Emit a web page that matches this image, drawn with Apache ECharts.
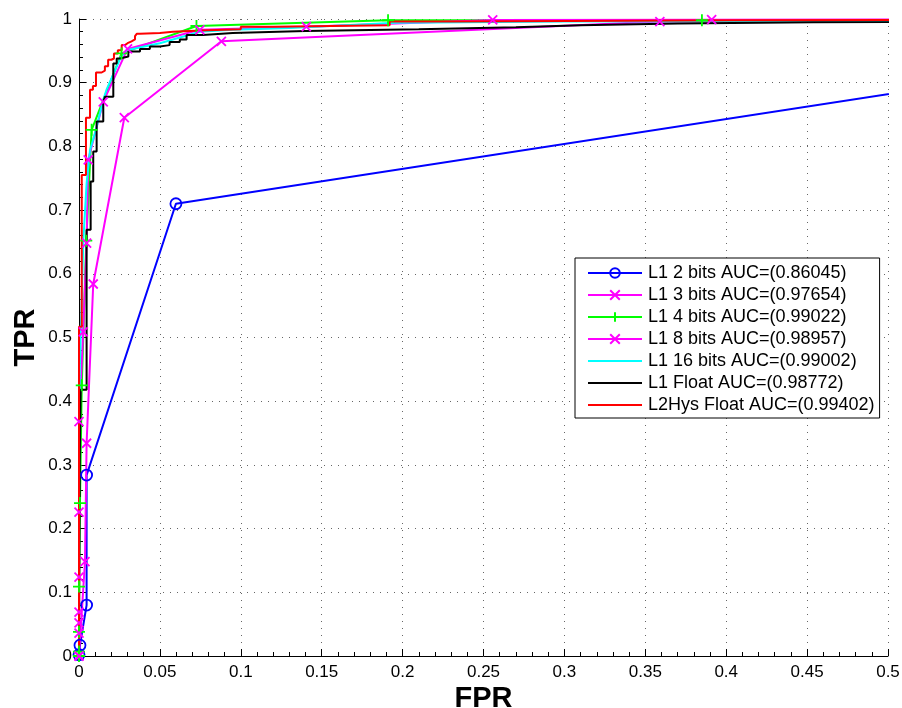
<!DOCTYPE html>
<html>
<head>
<meta charset="utf-8">
<script src="https://cdn.jsdelivr.net/npm/echarts@6/dist/echarts.min.js"></script>
<style>
html,body{margin:0;padding:0;background:#fff;}
#chart{width:902px;height:708px;}
</style>
</head>
<body>
<div id="chart"></div>
<script>
// ---- Data ----
const xTickValues = [0, 0.05, 0.1, 0.15, 0.2, 0.25, 0.3, 0.35, 0.4, 0.45, 0.5];
const xTickLabels = ['0', '0.05', '0.1', '0.15', '0.2', '0.25', '0.3', '0.35', '0.4', '0.45', '0.5'];
const yTickValues = [0, 0.1, 0.2, 0.3, 0.4, 0.5, 0.6, 0.7, 0.8, 0.9, 1];
const yTickLabels = ['0', '0.1', '0.2', '0.3', '0.4', '0.5', '0.6', '0.7', '0.8', '0.9', '1'];

const seriesNames = [
  'L1 2 bits AUC=(0.86045)',
  'L1 3 bits AUC=(0.97654)',
  'L1 4 bits AUC=(0.99022)',
  'L1 8 bits AUC=(0.98957)',
  'L1 16 bits AUC=(0.99002)',
  'L1 Float AUC=(0.98772)',
  'L2Hys Float AUC=(0.99402)'
];

// L1 2 bits
const fpr2 = [0, 0.0006, 0.0047, 0.0047, 0.0599, 0.6, 1];
const tpr2 = [0.002, 0.017, 0.080, 0.284, 0.710, 0.921, 1];

// L1 3 bits
const fpr3 = [0, 0.0037, 0.0047, 0.0088, 0.028, 0.088, 0.359, 1];
const tpr3 = [0, 0.148, 0.334, 0.584, 0.845, 0.965, 0.996, 1];

// L1 4 bits
const fpr4 = [0, 0, 0, 0, 0.0006, 0.0017, 0.0045, 0.0078, 0.0263, 0.0726, 0.191, 0.385, 1];
const tpr4 = [0, 0.007, 0.038, 0.109, 0.240, 0.425, 0.652, 0.826, 0.946, 0.989, 0.998, 0.998, 1];

// L1 8 bits
const fpr8 = [0, 0, 0, 0, 0, 0, 0, 0.0026, 0.0047, 0.0057, 0.015, 0.030, 0.0747, 0.1405, 0.2557, 0.391, 1];
const tpr8 = [0, 0.036, 0.052, 0.069, 0.124, 0.226, 0.368, 0.509, 0.648, 0.779, 0.870, 0.953, 0.983, 0.988, 0.9985, 0.999, 1];

// L1 16 bits
const fpr16 = [0, 0, 0.0005, 0.0012, 0.0027, 0.0047, 0.0068, 0.0099, 0.015, 0.017, 0.026, 0.0294, 0.05, 0.0747, 0.095, 0.13, 0.196, 0.3, 0.5, 1];
const tpr16 = [0, 0.30, 0.45, 0.52, 0.653, 0.742, 0.794, 0.821, 0.873, 0.889, 0.941, 0.951, 0.962, 0.980, 0.983, 0.986, 0.994, 0.996, 0.997, 1];

// L1 Float (staircase)
const fprFloat = [0, 0.0005, 0.001, 0.001, 0.0047, 0.0047, 0.0072, 0.0072, 0.0088, 0.0088, 0.0109, 0.0109, 0.015, 0.015, 0.016, 0.016, 0.0212, 0.0212, 0.0233, 0.0233, 0.0253, 0.0253, 0.0305, 0.0305, 0.0377, 0.0377, 0.0438, 0.0438, 0.05, 0.05, 0.056, 0.056, 0.0623, 0.0623, 0.0665, 0.0665, 0.0767, 0.0767, 0.095, 0.095, 0.14, 0.14, 0.21, 0.21, 0.27, 0.27, 0.31, 0.31, 0.37, 0.37, 0.454, 0.454, 1];
const tprFloat = [0, 0.31, 0.31, 0.418, 0.418, 0.669, 0.669, 0.745, 0.745, 0.792, 0.792, 0.839, 0.839, 0.870, 0.870, 0.878, 0.878, 0.930, 0.930, 0.938, 0.938, 0.941, 0.941, 0.949, 0.949, 0.953, 0.953, 0.957, 0.957, 0.959, 0.959, 0.964, 0.964, 0.968, 0.968, 0.975, 0.975, 0.978, 0.978, 0.981, 0.981, 0.984, 0.984, 0.987, 0.987, 0.990, 0.990, 0.993, 0.993, 0.995, 0.995, 0.997, 1];

// L2Hys Float (staircase)
const fprHys = [0, 0, 0.0017, 0.0017, 0.0043, 0.0043, 0.0068, 0.0068, 0.0086, 0.0086, 0.0105, 0.0105, 0.014, 0.014, 0.016, 0.016, 0.018, 0.018, 0.020, 0.020, 0.0216, 0.0216, 0.024, 0.024, 0.0264, 0.0264, 0.0284, 0.0284, 0.030, 0.030, 0.0325, 0.0325, 0.0346, 0.0346, 0.0358, 0.0358, 0.0377, 0.0377, 0.05, 0.05, 0.058, 0.058, 0.075, 0.075, 0.10, 0.10, 0.12, 0.12, 0.192, 0.192, 0.231, 0.231, 0.41, 0.41, 1];
const tprHys = [0, 0.517, 0.517, 0.755, 0.755, 0.845, 0.845, 0.889, 0.889, 0.895, 0.895, 0.916, 0.916, 0.919, 0.919, 0.926, 0.926, 0.936, 0.936, 0.938, 0.938, 0.946, 0.946, 0.951, 0.951, 0.959, 0.959, 0.962, 0.962, 0.965, 0.965, 0.968, 0.968, 0.973, 0.973, 0.977, 0.977, 0.978, 0.978, 0.980, 0.980, 0.982, 0.982, 0.984, 0.984, 0.988, 0.988, 0.990, 0.990, 0.996, 0.996, 0.998, 0.998, 0.999, 1];

// ---- Chart ----
const FONT = '"Liberation Sans", Arial, Helvetica, sans-serif';
const X_SYM = 'path://M0,0L10,10M0,10L10,0';
const PLUS_SYM = 'path://M5,0L5,10M0,5L10,5';

function zip(xs, ys) { return xs.map((x, i) => [x, ys[i]]); }

function mkSeries(name, xs, ys, color, symbol, symbolSize, fillNone) {
  const s = {
    name: name,
    type: 'line',
    data: zip(xs, ys),
    clip: true,
    smooth: false,
    lineStyle: { color: color, width: 2 },
    emphasis: { disabled: true },
    animation: false
  };
  if (symbol) {
    s.symbol = symbol;
    s.symbolSize = symbolSize;
    s.showSymbol = true;
    s.showAllSymbol = true;
    s.itemStyle = { color: fillNone ? 'rgba(0,0,0,0)' : color, borderColor: color, borderWidth: 1.8 };
  } else {
    s.symbol = 'none';
    s.itemStyle = { color: color };
  }
  return s;
}

const chart = echarts.init(document.getElementById('chart'), null, { renderer: 'canvas' });

const legendData = seriesNames.map((n, i) => (i >= 4
  ? { name: n, itemStyle: { color: 'rgba(0,0,0,0)', borderWidth: 0, opacity: 0 } }
  : { name: n }));

const option = {
  backgroundColor: '#ffffff',
  animation: false,
  textStyle: { fontFamily: FONT },
  grid: { left: 79, right: 14, top: 19, bottom: 52, containLabel: false, outerBoundsMode: 'none' },
  xAxis: {
    type: 'value',
    min: 0, max: 0.5, interval: 0.05,
    name: 'FPR',
    nameLocation: 'middle',
    nameGap: 28,
    nameMoveOverlap: false,
    nameTextStyle: { fontFamily: FONT, fontSize: 29, fontWeight: 'bold', color: '#000' },
    axisLine: { show: true, onZero: false, lineStyle: { color: '#000', width: 1 } },
    axisTick: { show: true, inside: true, length: 7, lineStyle: { color: '#000' } },
    minorTick: { show: true, splitNumber: 5, length: 4, lineStyle: { color: '#000' } },
    axisLabel: {
      fontFamily: FONT, fontSize: 17, color: '#000', margin: 8,
      formatter: function (v) {
        const i = xTickValues.findIndex(t => Math.abs(t - v) < 1e-9);
        return i >= 0 ? xTickLabels[i] : '';
      }
    },
    splitLine: { show: true, lineStyle: { color: '#666', width: 1, type: [1, 6] } }
  },
  yAxis: {
    type: 'value',
    min: 0, max: 1, interval: 0.1,
    name: 'TPR',
    nameLocation: 'middle',
    nameGap: 39,
    nameMoveOverlap: false,
    nameTextStyle: { fontFamily: FONT, fontSize: 29, fontWeight: 'bold', color: '#000' },
    axisLine: { show: true, onZero: false, lineStyle: { color: '#000', width: 1 } },
    axisTick: { show: true, inside: true, length: 7, lineStyle: { color: '#000' } },
    minorTick: { show: true, splitNumber: 5, length: 4, lineStyle: { color: '#000' } },
    axisLabel: {
      fontFamily: FONT, fontSize: 17, color: '#000', margin: 7,
      formatter: function (v) {
        const i = yTickValues.findIndex(t => Math.abs(t - v) < 1e-9);
        return i >= 0 ? yTickLabels[i] : '';
      }
    },
    splitLine: { show: true, lineStyle: { color: '#666', width: 1, type: [1, 6] } }
  },
  legend: {
    orient: 'vertical',
    left: 575,
    top: 258,
    data: legendData,
    itemWidth: 54,
    itemHeight: 12,
    itemGap: 2,
    padding: [5, 5, 3, 12],
    backgroundColor: '#ffffff',
    borderColor: '#000',
    borderWidth: 1,
    borderRadius: 0,
    selectedMode: false,
    textStyle: { fontFamily: FONT, fontSize: 18, color: '#000', lineHeight: 20, padding: [0, 0, 0, 1] }
  },
  series: [
    mkSeries(seriesNames[0], fpr2, tpr2, '#0000ff', 'circle', 11, true),
    mkSeries(seriesNames[1], fpr3, tpr3, '#ff00ff', X_SYM, 9, false),
    mkSeries(seriesNames[2], fpr4, tpr4, '#00ff00', PLUS_SYM, 12, false),
    mkSeries(seriesNames[3], fpr8, tpr8, '#ff00ff', X_SYM, 9, false),
    mkSeries(seriesNames[4], fpr16, tpr16, '#00ffff', null),
    mkSeries(seriesNames[5], fprFloat, tprFloat, '#000000', null),
    mkSeries(seriesNames[6], fprHys, tprHys, '#ff0000', null)
  ]
};

chart.setOption(option);
</script>
</body>
</html>
